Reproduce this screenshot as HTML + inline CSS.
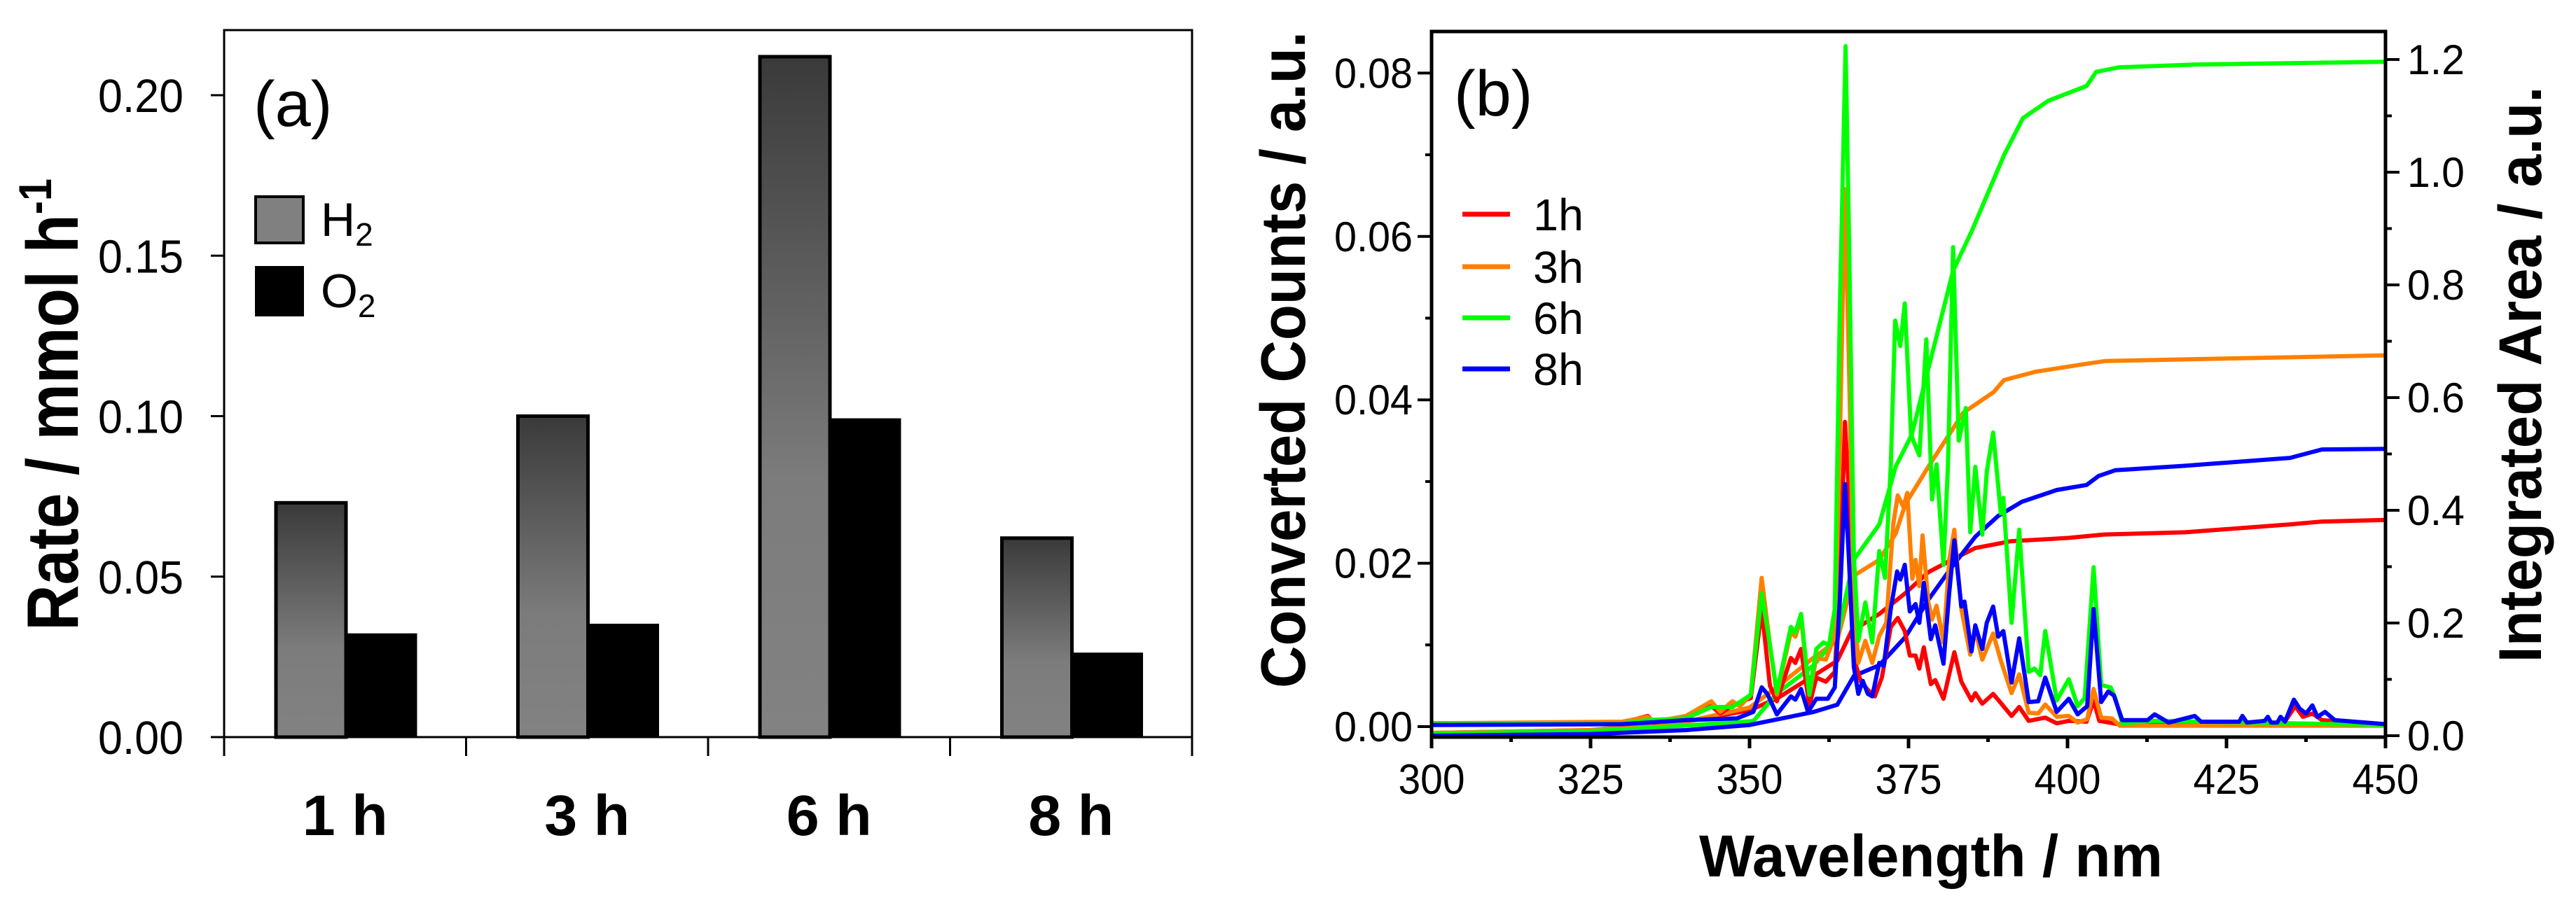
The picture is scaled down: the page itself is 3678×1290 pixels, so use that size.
<!DOCTYPE html>
<html><head><meta charset="utf-8">
<style>
html,body{margin:0;padding:0;background:#fff;}
svg{display:block;font-family:"Liberation Sans",Arial,sans-serif;}
</style></head>
<body>
<svg id="fig" xmlns="http://www.w3.org/2000/svg" width="3678" height="1290" viewBox="0 0 3678 1290">
<defs>
<linearGradient id="h2grad" x1="0" y1="0" x2="0" y2="1">
<stop offset="0" stop-color="#3a3a3a"/>
<stop offset="0.62" stop-color="#7c7c7c"/>
<stop offset="1" stop-color="#828282"/>
</linearGradient>
</defs>
<g id="panelA"></g>
<g id="panelB"></g>
</svg>
<script>
// ---------- Panel (a) data ----------
const categories = ["1 h", "3 h", "6 h", "8 h"];
const h2Rates = [0.073, 0.100, 0.212, 0.062];
const o2Rates = [0.032, 0.035, 0.099, 0.026];
const yTicksA = [0.00, 0.05, 0.10, 0.15, 0.20];
const yTickLabelsA = ["0.00", "0.05", "0.10", "0.15", "0.20"];

// ---------- Panel (b) data ----------
const wl1h = [300,330,334,335,340,344,345.4,347.3,350.2,351.9,353.2,354.3,356.5,357.2,358.1,359.4,360.5,362,363.4,364.2,365,365.6,366.4,367.5,368.6,369.7,370.8,372.2,373.3,374.4,375.2,376.1,376.7,377.4,378.5,379.2,380.5,382.2,383.3,384.9,385.5,386.6,388.3,389.5,391.2,392.4,393.9,396.5,398.3,400.2,403,404.1,405,408,434,435.8,437,438.5,440,450];
const counts1h = [0.0004,0.0005,0.0013,0.0005,0.0012,0.0025,0.0016,0.0026,0.0035,0.0144,0.005,0.0031,0.0084,0.0078,0.0095,0.0026,0.006,0.0055,0.0067,0.018,0.0373,0.0291,0.0084,0.0055,0.0045,0.0037,0.006,0.0122,0.0133,0.0117,0.0087,0.0087,0.0071,0.0097,0.0052,0.0057,0.0034,0.0091,0.0055,0.0032,0.0041,0.0028,0.004,0.0029,0.0013,0.0024,0.0007,0.0011,0.0004,0.0007,0.0006,0.0032,0.0007,0.0003,0.0004,0.0025,0.0012,0.0016,0.0008,0.0002];
const wl3h = [300,330,334,335,340,344,345.4,347.3,348.5,350.2,351.9,353.2,354.3,356.5,357.2,358.1,359.4,360.5,362,363.4,364.2,365,365.6,366.4,367.1,368.2,369.3,370.4,371.5,372.6,373.3,374.2,374.8,375.6,376.1,376.7,377.2,378.1,378.7,379.4,380.5,381.4,382.2,383.3,384.7,385.5,386.6,388.3,389.5,391.2,392.4,393.9,395.4,396.5,398.3,400.2,401.6,403.1,404.1,405.3,407,408.2,450];
const counts3h = [0.0004,0.0006,0.0012,0.0006,0.0013,0.0031,0.0018,0.0031,0.0025,0.0039,0.0182,0.01,0.0039,0.0116,0.011,0.0133,0.0039,0.0084,0.0082,0.0111,0.0346,0.0658,0.0455,0.0155,0.0078,0.0105,0.0078,0.0111,0.0127,0.0248,0.0283,0.0269,0.0286,0.0181,0.0204,0.0172,0.0234,0.0153,0.0131,0.0148,0.0103,0.0204,0.0241,0.0144,0.0088,0.0118,0.0082,0.0114,0.0081,0.0041,0.0064,0.0017,0.0016,0.0027,0.0012,0.0013,0.0005,0.0009,0.0046,0.0011,0.001,0.0001,0.0001];
const wl6h = [300,330,334,340,344,347.3,350.2,351.9,353.2,354.3,356.5,357.2,358.1,359.4,360.5,361.6,362.5,363.4,364.2,365.1,365.6,366.4,367.1,368.2,369.3,370.4,371.3,372.2,372.9,373.7,374.4,375.4,376.7,377.8,378.7,379.4,380.5,381.2,382,382.9,384,384.7,385.5,386.6,387.3,388.3,389.5,389.9,391.2,392.4,393.9,394.8,395.7,396.5,398.3,400.2,401.6,402.7,404.1,405.3,406.8,407.5,408.6,413.5,450];
const counts6h = [0.0003,0.0004,0.0008,0.001,0.0024,0.0024,0.0039,0.0163,0.01,0.0042,0.0122,0.0115,0.0138,0.0039,0.0095,0.0103,0.01,0.0144,0.051,0.0833,0.0619,0.021,0.0105,0.0152,0.0103,0.0215,0.0182,0.0319,0.0497,0.0466,0.0518,0.0357,0.0332,0.0474,0.0278,0.0321,0.0198,0.032,0.0587,0.035,0.039,0.0238,0.0318,0.0235,0.0312,0.036,0.0261,0.028,0.0127,0.0241,0.0067,0.0071,0.0063,0.0117,0.0032,0.0058,0.0025,0.0035,0.0195,0.0051,0.0048,0.0035,0.0004,0.0007,0.0002];
const wl8h = [300,330,334,340,348,350.6,351.9,352.8,354.3,356.5,357.2,358.1,359.2,360.5,362.3,363.4,364.2,365,365.6,366.4,367.1,367.8,368.6,369.3,370.4,371.1,372.2,373.2,373.7,374.4,375.2,376.1,376.7,377.4,378.5,379.2,380.5,381.4,382.2,383.3,383.8,384.9,385.5,386.6,387.3,388.3,389.1,389.9,391.2,392.4,393.9,395.4,396.5,398.3,400.2,401.6,403.1,404.1,405.3,406.4,407.3,408.6,412.6,413.7,415.9,418.5,420,421,427,427.5,428.2,431,431.5,432,433,433.5,434.2,435.6,436.5,437.5,438.5,439.3,440.5,442,450];
const counts8h = [0.0002,0.0003,0.0005,0.0008,0.001,0.0018,0.0048,0.004,0.0015,0.0037,0.0033,0.0046,0.0018,0.0034,0.0034,0.0048,0.0155,0.0297,0.021,0.0073,0.004,0.0056,0.004,0.0037,0.0078,0.0074,0.0144,0.019,0.018,0.0198,0.0141,0.015,0.0127,0.0176,0.0107,0.0124,0.0077,0.0164,0.0228,0.0147,0.0153,0.0092,0.0124,0.0095,0.0127,0.0147,0.011,0.0117,0.0054,0.0108,0.003,0.0031,0.006,0.0018,0.0034,0.0015,0.0025,0.0144,0.003,0.0043,0.0038,0.0008,0.0008,0.0015,0.0005,0.001,0.0013,0.0006,0.0006,0.0013,0.0005,0.0007,0.0012,0.0005,0.0005,0.0012,0.0006,0.0033,0.0022,0.0016,0.0026,0.0012,0.0018,0.0008,0.0003];

const wlInt1h = [300,325,340,350,354.3,360,363.8,366,370.4,374.5,378.1,381.8,385.5,391,400.2,405.7,418.5,435,440,450];
const area1h = [0.005,0.01,0.025,0.045,0.066,0.106,0.133,0.185,0.216,0.253,0.29,0.312,0.333,0.345,0.351,0.357,0.361,0.375,0.38,0.383];
const wlInt3h = [300,325,340,350,354.3,360,363.8,366.4,370.4,373,374.5,378.1,383.6,388.4,390,395,403,406,450];
const area3h = [0.005,0.01,0.025,0.05,0.086,0.138,0.169,0.284,0.312,0.359,0.411,0.477,0.573,0.61,0.631,0.646,0.66,0.665,0.675];
const wlInt6h = [300,325,340,350.6,354.3,360.1,363.8,365.3,366.4,370.4,373,375.5,382,385,390,393,397,403,404.5,408,420,450];
const area6h = [0.004,0.008,0.018,0.026,0.075,0.125,0.176,0.256,0.312,0.375,0.478,0.534,0.825,0.897,1.03,1.096,1.127,1.153,1.178,1.186,1.191,1.196];
const wlInt8h = [300,325,340,350,360,363.8,366.4,370.4,374.5,378.1,381.8,385.5,389.1,392.8,398.3,403,404.9,407.5,418.5,435,440,450];
const area8h = [0.0,0.003,0.01,0.019,0.042,0.055,0.106,0.125,0.175,0.241,0.299,0.353,0.39,0.415,0.436,0.445,0.461,0.471,0.479,0.493,0.508,0.509];

const seriesLabels = ["1h", "3h", "6h", "8h"];
const xTicksB = [300, 325, 350, 375, 400, 425, 450];
const yTicksB = [0.00, 0.02, 0.04, 0.06, 0.08];
const yTickLabelsB = ["0.00", "0.02", "0.04", "0.06", "0.08"];
const y2TicksB = [0.0, 0.2, 0.4, 0.6, 0.8, 1.0, 1.2];
const y2TickLabelsB = ["0.0", "0.2", "0.4", "0.6", "0.8", "1.0", "1.2"];

const NS = "http://www.w3.org/2000/svg";
function mk(parent, tag, attrs, text) {
  const e = document.createElementNS(NS, tag);
  for (const k in attrs) e.setAttribute(k, attrs[k]);
  if (text !== undefined) e.textContent = text;
  parent.appendChild(e);
  return e;
}

// ================= Panel A =================
(function () {
  const g = document.getElementById("panelA");
  const L = 320, R = 1702, T = 43, B = 1053;
  const yA = v => B - v / 0.05 * 229.25;
  const catW = (R - L) / categories.length;
  const barW = 100;
  const off = 74;

  const box = mk(g, "rect", {x: L, y: T, width: R - L, height: B - T, fill: "none", stroke: "#000", "stroke-width": 3});
  
  

  categories.forEach((c, i) => {
    const x0 = L + i * catW + off;
    const hb = mk(g, "rect", {x: x0, y: yA(h2Rates[i]), width: barW, height: B - yA(h2Rates[i]), fill: "url(#h2grad)", stroke: "#000", "stroke-width": 5});
    
    
    const ob = mk(g, "rect", {x: x0 + barW, y: yA(o2Rates[i]), width: barW, height: B - yA(o2Rates[i]), fill: "#000", stroke: "#000", "stroke-width": 3});
    
    
    const lab = mk(g, "text", {x: L + (i + 0.5) * catW, y: 1193, "font-size": 82, "font-weight": "bold", "text-anchor": "middle", textLength: 122, lengthAdjust: "spacingAndGlyphs"}, c);
    
    
  });
  const bl = mk(g, "line", {x1: L, y1: B, x2: R, y2: B, stroke: "#000", "stroke-width": 3});
  
  
  for (let i = 0; i <= categories.length; i++) {
    const t = mk(g, "line", {x1: L + i * catW, y1: B, x2: L + i * catW, y2: 1080, stroke: "#000", "stroke-width": 3});
    
    
  }
  yTicksA.forEach((v, i) => {
    const y = yA(v);
    const t = mk(g, "line", {x1: 301, y1: y, x2: L, y2: y, stroke: "#000", "stroke-width": 3});
    
    
    const tl = mk(g, "text", {x: 262, y: y + 24, "font-size": 67, "text-anchor": "end", textLength: 122, lengthAdjust: "spacingAndGlyphs"}, yTickLabelsA[i]);
    
    
  });
  const yt = mk(g, "text", {x: 0, y: 0, "font-size": 104, "font-weight": "bold", "text-anchor": "middle", transform: "translate(111,578) rotate(-90)", textLength: 646, lengthAdjust: "spacingAndGlyphs"});
  
  
  yt.appendChild(document.createTextNode("Rate / mmol h"));
  mk(yt, "tspan", {"font-size": 66, dy: -38}, "-1");

  const pl = mk(g, "text", {x: 362, y: 180, "font-size": 92}, "(a)");
  
  

  const lg = mk(g, "g", {});
  
  
  const s1 = mk(lg, "rect", {x: 365, y: 281, width: 68, height: 66, fill: "#808080", stroke: "#000", "stroke-width": 4});
  
  
  const t1 = mk(lg, "text", {x: 458, y: 337, "font-size": 68}, "H");
  
  
  mk(t1, "tspan", {"font-size": 46, dy: 14}, "2");
  const s2 = mk(lg, "rect", {x: 364, y: 380, width: 70, height: 72, fill: "#000"});
  
  
  const t2 = mk(lg, "text", {x: 458, y: 439, "font-size": 68}, "O");
  
  
  mk(t2, "tspan", {"font-size": 46, dy: 14}, "2");
})();

// ================= Panel B =================
(function () {
  const g = document.getElementById("panelB");
  const L = 2044, R = 3406, T = 45, B = 1053;
  const xB = w => L + (w - 300) * (R - L) / 150;
  const yB = c => 1038 - c / 0.02 * 233.4;
  const y2B = a => 1051 - a * 805;
  const colors = ["#ff0000", "#ff8000", "#00ff00", "#0000ff"];

  const spectra = [[wl1h, counts1h], [wl3h, counts3h], [wl6h, counts6h], [wl8h, counts8h]];
  const integ = [[wlInt1h, area1h], [wlInt3h, area3h], [wlInt6h, area6h], [wlInt8h, area8h]];

  function pathFrom(xs, ys, fy) {
    return xs.map((w, i) => (i ? "L" : "M") + xB(w).toFixed(1) + "," + fy(ys[i]).toFixed(1)).join(" ");
  }
  integ.forEach((s, i) => {
    const p = mk(g, "path", {d: pathFrom(s[0], s[1], y2B), fill: "none", stroke: colors[i], "stroke-width": 6, "stroke-linejoin": "round"});
    
    
  });
  spectra.forEach((s, i) => {
    const p = mk(g, "path", {d: pathFrom(s[0], s[1], yB), fill: "none", stroke: colors[i], "stroke-width": 6, "stroke-linejoin": "round"});
    
    
  });

  const fr = mk(g, "rect", {x: L, y: T, width: R - L, height: B - T, fill: "none", stroke: "#000", "stroke-width": 5});
  
  

  for (let w = 300; w <= 450; w += 12.5) {
    const major = (w % 25 === 0);
    const t = mk(g, "line", {x1: xB(w), y1: B, x2: xB(w), y2: B + (major ? 16 : 7), stroke: "#000", "stroke-width": 5});
    
    
  }
  xTicksB.forEach(w => {
    const tl = mk(g, "text", {x: xB(w), y: 1134, "font-size": 60, "text-anchor": "middle", textLength: 95, lengthAdjust: "spacingAndGlyphs"}, String(w));
    
    
  });
  for (let c = 0; c <= 0.0801; c += 0.01) {
    const major = Math.round(c * 100) % 2 === 0;
    const t = mk(g, "line", {x1: L - (major ? 20 : 9), y1: yB(c), x2: L, y2: yB(c), stroke: "#000", "stroke-width": 4});
    
    
  }
  yTicksB.forEach((c, i) => {
    const tl = mk(g, "text", {x: 2017, y: yB(c) + 21, "font-size": 60, "text-anchor": "end", textLength: 112, lengthAdjust: "spacingAndGlyphs"}, yTickLabelsB[i]);
    
    
  });
  for (let a = 0; a <= 1.201; a += 0.1) {
    const major = Math.round(a * 10) % 2 === 0;
    const t = mk(g, "line", {x1: R, y1: y2B(a), x2: R + (major ? 20 : 9), y2: y2B(a), stroke: "#000", "stroke-width": 4});
    
    
  }
  y2TicksB.forEach((a, i) => {
    const tl = mk(g, "text", {x: 3437, y: y2B(a) + 21, "font-size": 60, textLength: 82, lengthAdjust: "spacingAndGlyphs"}, y2TickLabelsB[i]);
    
    
  });

  const xt = mk(g, "text", {x: 2757, y: 1252, "font-size": 84, "font-weight": "bold", "text-anchor": "middle", textLength: 662, lengthAdjust: "spacingAndGlyphs"}, "Wavelength / nm");
  
  
  const yt = mk(g, "text", {x: 0, y: 0, "font-size": 90, "font-weight": "bold", "text-anchor": "middle", transform: "translate(1863,514) rotate(-90)", textLength: 938, lengthAdjust: "spacingAndGlyphs"}, "Converted Counts / a.u.");
  
  
  const y2t = mk(g, "text", {x: 0, y: 0, "font-size": 86, "font-weight": "bold", "text-anchor": "middle", transform: "translate(3628,535) rotate(-90)", textLength: 823, lengthAdjust: "spacingAndGlyphs"}, "Integrated Area / a.u.");
  
  

  const pl = mk(g, "text", {x: 2076, y: 165, "font-size": 92}, "(b)");
  
  

  const legendY = [306, 381, 454, 527];
  seriesLabels.forEach((s, i) => {
    const ln = mk(g, "line", {x1: 2088, y1: legendY[i], x2: 2156, y2: legendY[i], stroke: colors[i], "stroke-width": 7});
    
    
    const tx = mk(g, "text", {x: 2189, y: legendY[i] + 23, "font-size": 64, textLength: 72, lengthAdjust: "spacingAndGlyphs"}, s);
    
    
  });
})();
</script>
</body></html>
